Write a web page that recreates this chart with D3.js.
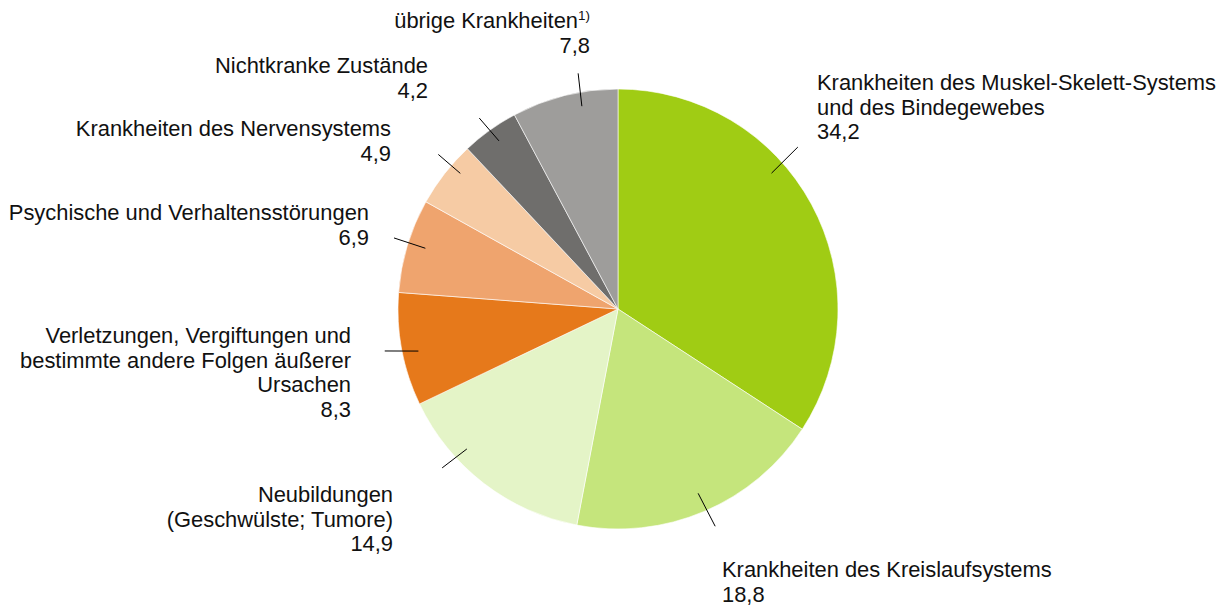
<!DOCTYPE html>
<html>
<head>
<meta charset="utf-8">
<script src="https://cdn.jsdelivr.net/npm/d3@7"></script>
<style>
  html, body { margin: 0; padding: 0; background: #fff; }
  svg { display: block; }
  text { font-family: "Liberation Sans", Arial, sans-serif; font-size: 21.9px; fill: #111; }
</style>
</head>
<body>
<svg id="chart" width="1223" height="606"></svg>
<script>
// ---- Data ----
const categories = [
  "Krankheiten des Muskel-Skelett-Systems\nund des Bindegewebes",
  "Krankheiten des Kreislaufsystems",
  "Neubildungen\n(Geschwülste; Tumore)",
  "Verletzungen, Vergiftungen und\nbestimmte andere Folgen äußerer\nUrsachen",
  "Psychische und Verhaltensstörungen",
  "Krankheiten des Nervensystems",
  "Nichtkranke Zustände",
  "übrige Krankheiten"
];
const values = [34.2, 18.8, 14.9, 8.3, 6.9, 4.9, 4.2, 7.8];
const footnotes = ["", "", "", "", "", "", "", "1)"];
const colors = ["#a0cc14", "#c5e57c", "#e4f4c7", "#e6791b", "#efa46e", "#f6cba4", "#6f6e6c", "#9e9d9b"];

// ---- Layout (label placement, leader lines in polar coords) ----
const cx = 618, cy = 309, R = 220;
const labelLayout = [
  { x: 817, y: 90,  anchor: "start" },
  { x: 722, y: 577, anchor: "start" },
  { x: 393, y: 502, anchor: "end" },
  { x: 351, y: 343, anchor: "end" },
  { x: 369, y: 220, anchor: "end" },
  { x: 391, y: 136, anchor: "end" },
  { x: 428, y: 73,  anchor: "end" },
  { x: 590, y: 28,  anchor: "end" }
];
// [angle1 (deg), radius1, angle2 (deg), radius2]
const leaders = [
  [48.5, 205, 48.0, 242],
  [156.5, 201, 155.9, 238],
  [227.2, 206, 227.9, 237],
  [258.1, 204, 259.8, 237],
  [287.5, 202, 287.6, 235],
  [310.7, 208, 310.7, 237],
  [324.7, 206, 324.0, 236],
  [349.9, 206, 350.4, 239]
];
const lineHeight = 24.5;
const supShift = 8;

const locale = d3.formatLocale({ decimal: ",", thousands: ".", grouping: [3], currency: ["", " €"] });
const fmt = locale.format(".1f");

const svg = d3.select("#chart");
const g = svg.append("g").attr("transform", `translate(${cx},${cy})`);

const pie = d3.pie().sort(null).value(d => d).startAngle(0).endAngle(2 * Math.PI);
const arcs = pie(values);
const arc = d3.arc().innerRadius(0).outerRadius(R);

g.selectAll("path.slice")
  .data(arcs)
  .enter().append("path")
  .attr("class", "slice")
  .attr("d", arc)
  .attr("fill", (d, i) => colors[i])
  .attr("stroke", "#fff")
  .attr("stroke-width", 0.6);

const polar = (deg, r) => {
  const a = deg * Math.PI / 180;
  return [r * Math.sin(a), -r * Math.cos(a)];
};

g.selectAll("line.leader")
  .data(leaders)
  .enter().append("line")
  .attr("class", "leader")
  .attr("x1", d => polar(d[0], d[1])[0])
  .attr("y1", d => polar(d[0], d[1])[1])
  .attr("x2", d => polar(d[2], d[3])[0])
  .attr("y2", d => polar(d[2], d[3])[1])
  .attr("stroke", "#000")
  .attr("stroke-width", 1);

categories.forEach((cat, i) => {
  const L = labelLayout[i];
  const lines = cat.split("\n");
  const t = svg.append("text")
    .attr("x", L.x).attr("y", L.y)
    .attr("text-anchor", L.anchor);
  let extra = 0;
  lines.forEach((ln, j) => {
    t.append("tspan")
      .attr("x", L.x)
      .attr("dy", j === 0 ? 0 : lineHeight)
      .text(ln);
    if (j === lines.length - 1 && footnotes[i]) {
      t.append("tspan")
        .attr("dy", -supShift)
        .style("font-size", "13.5px")
        .text(footnotes[i]);
      extra = supShift;
    }
  });
  t.append("tspan")
    .attr("x", L.x)
    .attr("dy", lineHeight + extra)
    .text(fmt(values[i]));
});
</script>
</body>
</html>
